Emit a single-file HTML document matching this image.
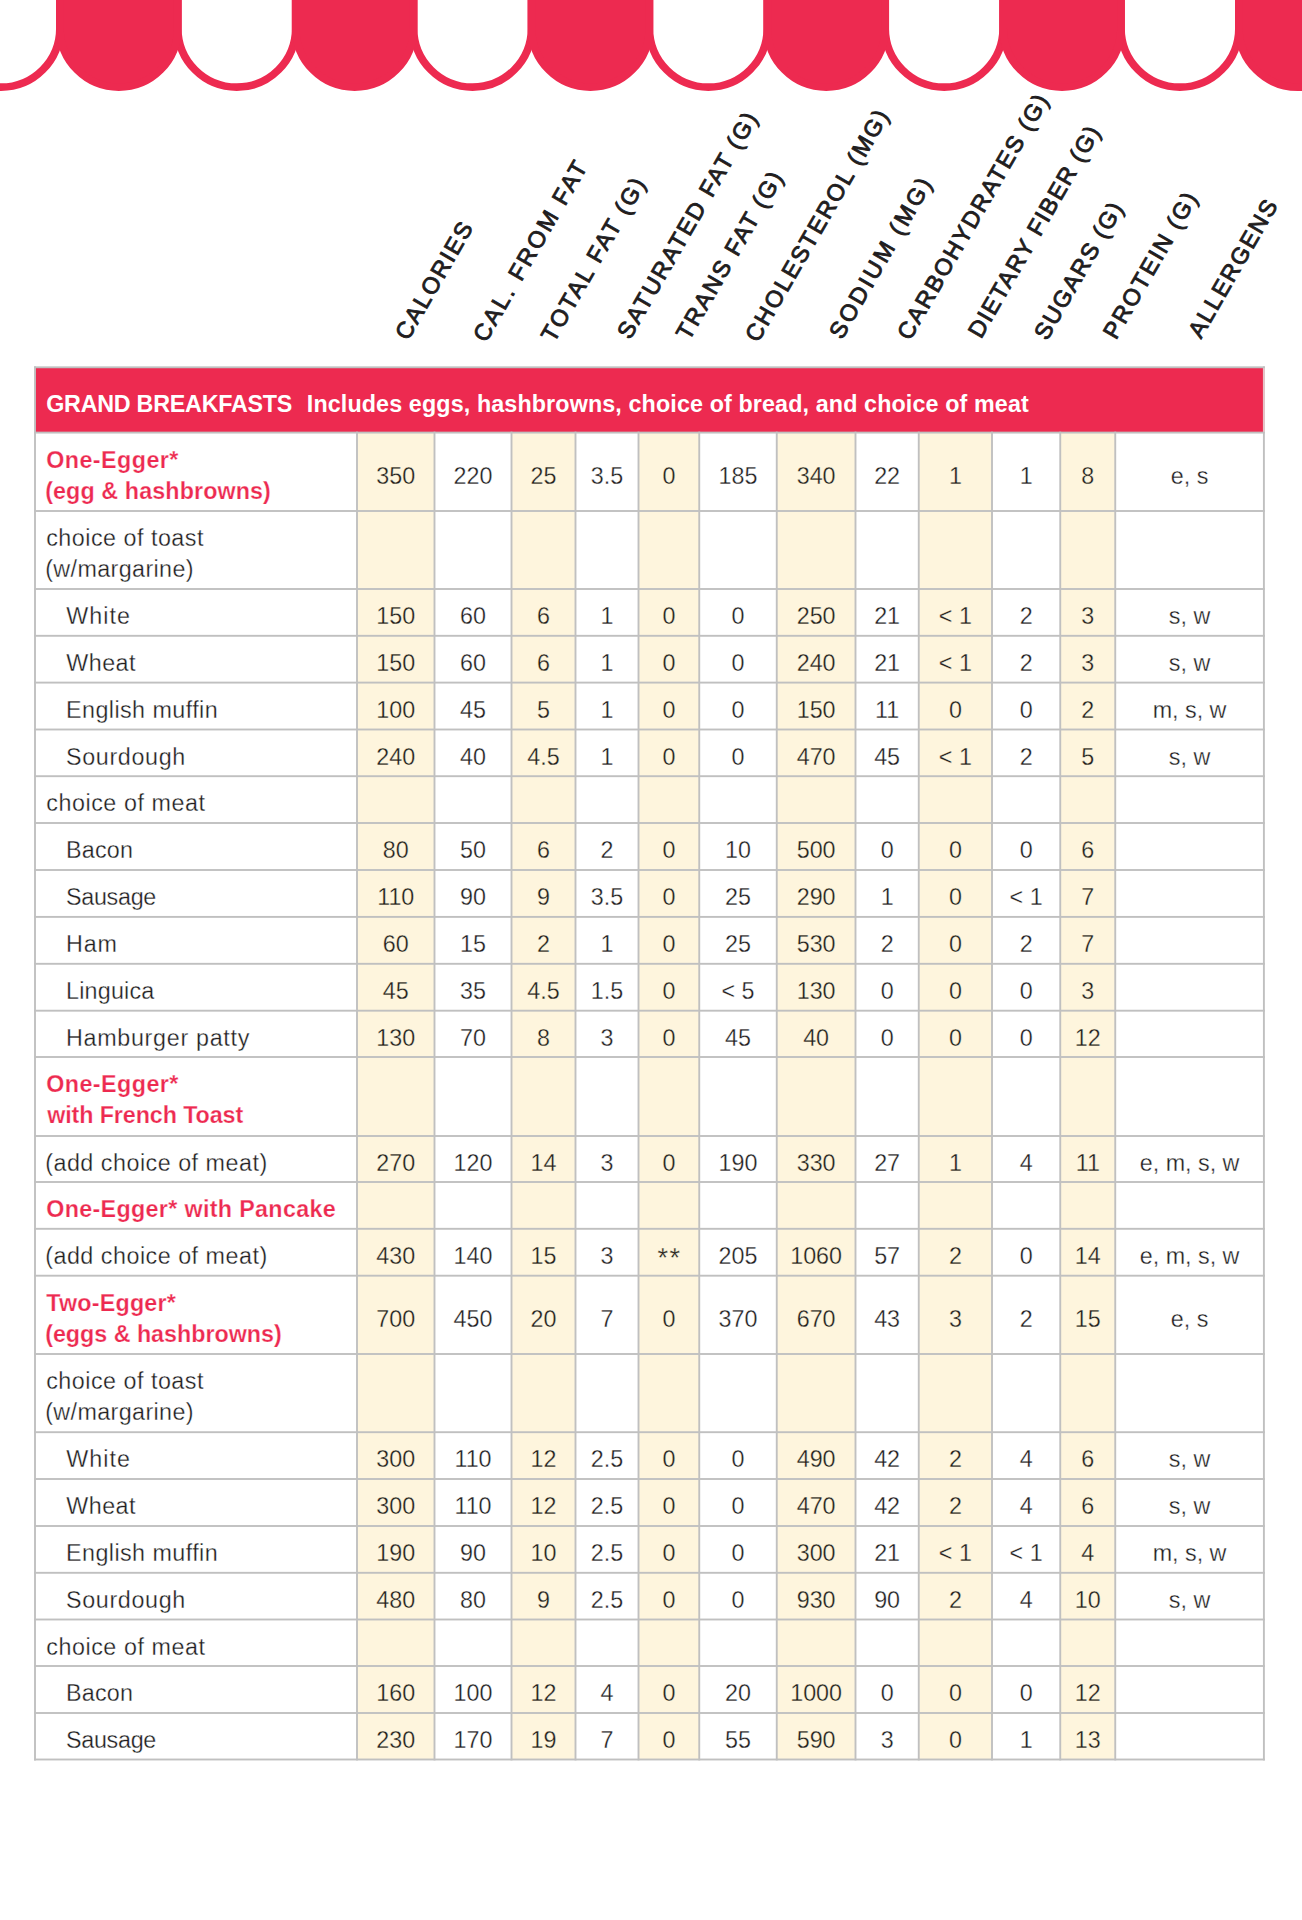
<!DOCTYPE html>
<html lang="en"><head><meta charset="utf-8"><title>Nutrition Facts - Grand Breakfasts</title>
<style>
html,body{margin:0;padding:0;background:#fff}
body{width:1302px;height:1920px;position:relative;overflow:hidden;font-family:"Liberation Sans",sans-serif;color:#211D1E}
.a{position:absolute;white-space:nowrap}
.t{position:absolute;white-space:nowrap;font-size:23.3px;line-height:30px;height:30px}
.n{text-align:center}
.w{-webkit-text-stroke:0.3px #fff}
.k{-webkit-text-stroke:0.3px #FEF5DD}
.r{color:#ED2A50;font-weight:bold;-webkit-text-stroke:0.25px #fff}
.h{position:absolute;white-space:nowrap;font-size:23.3px;line-height:30px;height:30px;transform-origin:0 100%;transform:rotate(-60deg);color:#211D1E;-webkit-text-stroke:0.9px #211D1E}

</style></head><body>
<svg class="a" style="left:0;top:0" width="1302" height="100" viewBox="0 0 1302 100">
<path d="M-58.000 -10 V28.20 A58.90 58.90 0 0 0 59.900 28.20 V-10 Z" fill="#fff" stroke="#ED2A50" stroke-width="7.7"/>
<path d="M177.800 -10 V28.20 A58.90 58.90 0 0 0 295.700 28.20 V-10 Z" fill="#fff" stroke="#ED2A50" stroke-width="7.7"/>
<path d="M413.600 -10 V28.20 A58.90 58.90 0 0 0 531.500 28.20 V-10 Z" fill="#fff" stroke="#ED2A50" stroke-width="7.7"/>
<path d="M649.400 -10 V28.20 A58.90 58.90 0 0 0 767.300 28.20 V-10 Z" fill="#fff" stroke="#ED2A50" stroke-width="7.7"/>
<path d="M885.200 -10 V28.20 A58.90 58.90 0 0 0 1003.100 28.20 V-10 Z" fill="#fff" stroke="#ED2A50" stroke-width="7.7"/>
<path d="M1121.000 -10 V28.20 A58.90 58.90 0 0 0 1238.900 28.20 V-10 Z" fill="#fff" stroke="#ED2A50" stroke-width="7.7"/>
<path d="M59.900 -10 V28.20 A58.90 58.90 0 0 0 177.800 28.20 V-10 Z" fill="#ED2A50" stroke="#ED2A50" stroke-width="7.7"/>
<path d="M295.700 -10 V28.20 A58.90 58.90 0 0 0 413.600 28.20 V-10 Z" fill="#ED2A50" stroke="#ED2A50" stroke-width="7.7"/>
<path d="M531.500 -10 V28.20 A58.90 58.90 0 0 0 649.400 28.20 V-10 Z" fill="#ED2A50" stroke="#ED2A50" stroke-width="7.7"/>
<path d="M767.300 -10 V28.20 A58.90 58.90 0 0 0 885.200 28.20 V-10 Z" fill="#ED2A50" stroke="#ED2A50" stroke-width="7.7"/>
<path d="M1003.100 -10 V28.20 A58.90 58.90 0 0 0 1121.000 28.20 V-10 Z" fill="#ED2A50" stroke="#ED2A50" stroke-width="7.7"/>
<path d="M1238.900 -10 V28.20 A58.90 58.90 0 0 0 1356.800 28.20 V-10 Z" fill="#ED2A50" stroke="#ED2A50" stroke-width="7.7"/>
</svg>
<div class="h" style="left:414.00px;top:315.45px;letter-spacing:1.92px">CALORIES</div>
<div class="h" style="left:492.30px;top:317.35px;letter-spacing:2.47px">CAL. FROM FAT</div>
<div class="h" style="left:560.00px;top:317.05px;letter-spacing:2.11px">TOTAL FAT (G)</div>
<div class="h" style="left:635.85px;top:314.30px;letter-spacing:1.98px">SATURATED FAT (G)</div>
<div class="h" style="left:694.80px;top:315.25px;letter-spacing:1.94px">TRANS FAT (G)</div>
<div class="h" style="left:763.55px;top:316.50px;letter-spacing:2.05px">CHOLESTEROL (MG)</div>
<div class="h" style="left:848.00px;top:314.35px;letter-spacing:2.84px">SODIUM (MG)</div>
<div class="h" style="left:915.85px;top:315.30px;letter-spacing:1.90px">CARBOHYDRATES (G)</div>
<div class="h" style="left:986.75px;top:313.25px;letter-spacing:1.63px">DIETARY FIBER (G)</div>
<div class="h" style="left:1053.20px;top:315.20px;letter-spacing:1.71px">SUGARS (G)</div>
<div class="h" style="left:1121.70px;top:313.90px;letter-spacing:2.05px">PROTEIN (G)</div>
<div class="h" style="left:1206.80px;top:312.50px;letter-spacing:1.84px">ALLERGENS</div>
<svg class="a" style="left:0;top:340px" width="1302" height="1440" viewBox="0 340 1302 1440">
<rect x="357" y="432.6" width="77.5" height="1326.9" fill="#FEF5DD"/>
<rect x="511.5" y="432.6" width="64" height="1326.9" fill="#FEF5DD"/>
<rect x="638.5" y="432.6" width="60.75" height="1326.9" fill="#FEF5DD"/>
<rect x="776.75" y="432.6" width="78.75" height="1326.9" fill="#FEF5DD"/>
<rect x="918.75" y="432.6" width="73.25" height="1326.9" fill="#FEF5DD"/>
<rect x="1060.25" y="432.6" width="55" height="1326.9" fill="#FEF5DD"/>
<rect x="35" y="367.3" width="1228.9" height="65.3" fill="#ED2A50"/>
<g fill="#C0C0C0">
<rect x="34.05" y="366.35" width="1230.8" height="1.9"/>
<rect x="34.05" y="431.65" width="1230.8" height="1.9"/>
<rect x="34.05" y="510.05" width="1230.8" height="1.9"/>
<rect x="34.05" y="588.05" width="1230.8" height="1.9"/>
<rect x="34.05" y="634.85" width="1230.8" height="1.9"/>
<rect x="34.05" y="681.65" width="1230.8" height="1.9"/>
<rect x="34.05" y="728.55" width="1230.8" height="1.9"/>
<rect x="34.05" y="775.25" width="1230.8" height="1.9"/>
<rect x="34.05" y="822.05" width="1230.8" height="1.9"/>
<rect x="34.05" y="869.05" width="1230.8" height="1.9"/>
<rect x="34.05" y="915.95" width="1230.8" height="1.9"/>
<rect x="34.05" y="962.85" width="1230.8" height="1.9"/>
<rect x="34.05" y="1009.75" width="1230.8" height="1.9"/>
<rect x="34.05" y="1056.05" width="1230.8" height="1.9"/>
<rect x="34.05" y="1135.05" width="1230.8" height="1.9"/>
<rect x="34.05" y="1181.05" width="1230.8" height="1.9"/>
<rect x="34.05" y="1227.85" width="1230.8" height="1.9"/>
<rect x="34.05" y="1274.75" width="1230.8" height="1.9"/>
<rect x="34.05" y="1353.05" width="1230.8" height="1.9"/>
<rect x="34.05" y="1431.25" width="1230.8" height="1.9"/>
<rect x="34.05" y="1478.05" width="1230.8" height="1.9"/>
<rect x="34.05" y="1525.05" width="1230.8" height="1.9"/>
<rect x="34.05" y="1571.85" width="1230.8" height="1.9"/>
<rect x="34.05" y="1618.55" width="1230.8" height="1.9"/>
<rect x="34.05" y="1665.05" width="1230.8" height="1.9"/>
<rect x="34.05" y="1712.05" width="1230.8" height="1.9"/>
<rect x="34.05" y="1758.55" width="1230.8" height="1.9"/>
<rect x="34.05" y="366.35" width="1.9" height="1394.1"/>
<rect x="356.05" y="431.65" width="1.9" height="1328.8"/>
<rect x="433.55" y="431.65" width="1.9" height="1328.8"/>
<rect x="510.55" y="431.65" width="1.9" height="1328.8"/>
<rect x="574.55" y="431.65" width="1.9" height="1328.8"/>
<rect x="637.55" y="431.65" width="1.9" height="1328.8"/>
<rect x="698.3" y="431.65" width="1.9" height="1328.8"/>
<rect x="775.8" y="431.65" width="1.9" height="1328.8"/>
<rect x="854.55" y="431.65" width="1.9" height="1328.8"/>
<rect x="917.8" y="431.65" width="1.9" height="1328.8"/>
<rect x="991.05" y="431.65" width="1.9" height="1328.8"/>
<rect x="1059.3" y="431.65" width="1.9" height="1328.8"/>
<rect x="1114.3" y="431.65" width="1.9" height="1328.8"/>
<rect x="1262.95" y="366.35" width="1.9" height="1394.1"/>
</g>
<rect x="1262.95" y="368.25" width="1.9" height="63.4" fill="#E6C3C7"/>
</svg>
<div class="t" style="left:46.20px;top:389.00px;font-size:23.3px;font-weight:bold;color:#fff;letter-spacing:-0.244px">GRAND BREAKFASTS</div>
<div class="t" style="left:306.80px;top:389.00px;font-size:23.3px;font-weight:bold;color:#fff;letter-spacing:0.121px">Includes eggs, hashbrowns, choice of bread, and choice of meat</div>
<div class="t r" style="left:46.20px;top:445.00px;letter-spacing:0.446px">One-Egger*</div>
<div class="t r" style="left:45.20px;top:476.00px;letter-spacing:0.103px">(egg &amp; hashbrowns)</div>
<div class="t n k" style="left:357.00px;top:461.00px;width:77.5px;">350</div>
<div class="t n w" style="left:434.50px;top:461.00px;width:77px;">220</div>
<div class="t n k" style="left:511.50px;top:461.00px;width:64px;">25</div>
<div class="t n w" style="left:575.50px;top:461.00px;width:63px;">3.5</div>
<div class="t n k" style="left:638.50px;top:461.00px;width:60.75px;">0</div>
<div class="t n w" style="left:699.25px;top:461.00px;width:77.5px;">185</div>
<div class="t n k" style="left:776.75px;top:461.00px;width:78.75px;">340</div>
<div class="t n w" style="left:855.50px;top:461.00px;width:63.25px;">22</div>
<div class="t n k" style="left:918.75px;top:461.00px;width:73.25px;">1</div>
<div class="t n w" style="left:992.00px;top:461.00px;width:68.25px;">1</div>
<div class="t n k" style="left:1060.25px;top:461.00px;width:55px;">8</div>
<div class="t n w" style="left:1115.25px;top:461.00px;width:148.65px;">e, s</div>
<div class="t w" style="left:46.20px;top:523.00px;letter-spacing:0.503px">choice of toast</div>
<div class="t w" style="left:45.20px;top:554.00px;letter-spacing:0.389px">(w/margarine)</div>
<div class="t w" style="left:66.20px;top:601.00px;letter-spacing:1.027px">White</div>
<div class="t n k" style="left:357.00px;top:601.00px;width:77.5px;">150</div>
<div class="t n w" style="left:434.50px;top:601.00px;width:77px;">60</div>
<div class="t n k" style="left:511.50px;top:601.00px;width:64px;">6</div>
<div class="t n w" style="left:575.50px;top:601.00px;width:63px;">1</div>
<div class="t n k" style="left:638.50px;top:601.00px;width:60.75px;">0</div>
<div class="t n w" style="left:699.25px;top:601.00px;width:77.5px;">0</div>
<div class="t n k" style="left:776.75px;top:601.00px;width:78.75px;">250</div>
<div class="t n w" style="left:855.50px;top:601.00px;width:63.25px;">21</div>
<div class="t n k" style="left:918.75px;top:601.00px;width:73.25px;">&lt; 1</div>
<div class="t n w" style="left:992.00px;top:601.00px;width:68.25px;">2</div>
<div class="t n k" style="left:1060.25px;top:601.00px;width:55px;">3</div>
<div class="t n w" style="left:1115.25px;top:601.00px;width:148.65px;">s, w</div>
<div class="t w" style="left:66.20px;top:648.00px;letter-spacing:0.510px">Wheat</div>
<div class="t n k" style="left:357.00px;top:648.00px;width:77.5px;">150</div>
<div class="t n w" style="left:434.50px;top:648.00px;width:77px;">60</div>
<div class="t n k" style="left:511.50px;top:648.00px;width:64px;">6</div>
<div class="t n w" style="left:575.50px;top:648.00px;width:63px;">1</div>
<div class="t n k" style="left:638.50px;top:648.00px;width:60.75px;">0</div>
<div class="t n w" style="left:699.25px;top:648.00px;width:77.5px;">0</div>
<div class="t n k" style="left:776.75px;top:648.00px;width:78.75px;">240</div>
<div class="t n w" style="left:855.50px;top:648.00px;width:63.25px;">21</div>
<div class="t n k" style="left:918.75px;top:648.00px;width:73.25px;">&lt; 1</div>
<div class="t n w" style="left:992.00px;top:648.00px;width:68.25px;">2</div>
<div class="t n k" style="left:1060.25px;top:648.00px;width:55px;">3</div>
<div class="t n w" style="left:1115.25px;top:648.00px;width:148.65px;">s, w</div>
<div class="t w" style="left:66.00px;top:695.00px;letter-spacing:0.443px">English muffin</div>
<div class="t n k" style="left:357.00px;top:695.00px;width:77.5px;">100</div>
<div class="t n w" style="left:434.50px;top:695.00px;width:77px;">45</div>
<div class="t n k" style="left:511.50px;top:695.00px;width:64px;">5</div>
<div class="t n w" style="left:575.50px;top:695.00px;width:63px;">1</div>
<div class="t n k" style="left:638.50px;top:695.00px;width:60.75px;">0</div>
<div class="t n w" style="left:699.25px;top:695.00px;width:77.5px;">0</div>
<div class="t n k" style="left:776.75px;top:695.00px;width:78.75px;">150</div>
<div class="t n w" style="left:855.50px;top:695.00px;width:63.25px;">11</div>
<div class="t n k" style="left:918.75px;top:695.00px;width:73.25px;">0</div>
<div class="t n w" style="left:992.00px;top:695.00px;width:68.25px;">0</div>
<div class="t n k" style="left:1060.25px;top:695.00px;width:55px;">2</div>
<div class="t n w" style="left:1115.25px;top:695.00px;width:148.65px;">m, s, w</div>
<div class="t w" style="left:66.00px;top:742.00px;letter-spacing:0.658px">Sourdough</div>
<div class="t n k" style="left:357.00px;top:742.00px;width:77.5px;">240</div>
<div class="t n w" style="left:434.50px;top:742.00px;width:77px;">40</div>
<div class="t n k" style="left:511.50px;top:742.00px;width:64px;">4.5</div>
<div class="t n w" style="left:575.50px;top:742.00px;width:63px;">1</div>
<div class="t n k" style="left:638.50px;top:742.00px;width:60.75px;">0</div>
<div class="t n w" style="left:699.25px;top:742.00px;width:77.5px;">0</div>
<div class="t n k" style="left:776.75px;top:742.00px;width:78.75px;">470</div>
<div class="t n w" style="left:855.50px;top:742.00px;width:63.25px;">45</div>
<div class="t n k" style="left:918.75px;top:742.00px;width:73.25px;">&lt; 1</div>
<div class="t n w" style="left:992.00px;top:742.00px;width:68.25px;">2</div>
<div class="t n k" style="left:1060.25px;top:742.00px;width:55px;">5</div>
<div class="t n w" style="left:1115.25px;top:742.00px;width:148.65px;">s, w</div>
<div class="t w" style="left:46.20px;top:788.00px;letter-spacing:0.559px">choice of meat</div>
<div class="t w" style="left:66.00px;top:835.00px;letter-spacing:0.200px">Bacon</div>
<div class="t n k" style="left:357.00px;top:835.00px;width:77.5px;">80</div>
<div class="t n w" style="left:434.50px;top:835.00px;width:77px;">50</div>
<div class="t n k" style="left:511.50px;top:835.00px;width:64px;">6</div>
<div class="t n w" style="left:575.50px;top:835.00px;width:63px;">2</div>
<div class="t n k" style="left:638.50px;top:835.00px;width:60.75px;">0</div>
<div class="t n w" style="left:699.25px;top:835.00px;width:77.5px;">10</div>
<div class="t n k" style="left:776.75px;top:835.00px;width:78.75px;">500</div>
<div class="t n w" style="left:855.50px;top:835.00px;width:63.25px;">0</div>
<div class="t n k" style="left:918.75px;top:835.00px;width:73.25px;">0</div>
<div class="t n w" style="left:992.00px;top:835.00px;width:68.25px;">0</div>
<div class="t n k" style="left:1060.25px;top:835.00px;width:55px;">6</div>
<div class="t w" style="left:66.00px;top:882.00px;letter-spacing:-0.286px">Sausage</div>
<div class="t n k" style="left:357.00px;top:882.00px;width:77.5px;">110</div>
<div class="t n w" style="left:434.50px;top:882.00px;width:77px;">90</div>
<div class="t n k" style="left:511.50px;top:882.00px;width:64px;">9</div>
<div class="t n w" style="left:575.50px;top:882.00px;width:63px;">3.5</div>
<div class="t n k" style="left:638.50px;top:882.00px;width:60.75px;">0</div>
<div class="t n w" style="left:699.25px;top:882.00px;width:77.5px;">25</div>
<div class="t n k" style="left:776.75px;top:882.00px;width:78.75px;">290</div>
<div class="t n w" style="left:855.50px;top:882.00px;width:63.25px;">1</div>
<div class="t n k" style="left:918.75px;top:882.00px;width:73.25px;">0</div>
<div class="t n w" style="left:992.00px;top:882.00px;width:68.25px;">&lt; 1</div>
<div class="t n k" style="left:1060.25px;top:882.00px;width:55px;">7</div>
<div class="t w" style="left:66.00px;top:929.00px;letter-spacing:0.810px">Ham</div>
<div class="t n k" style="left:357.00px;top:929.00px;width:77.5px;">60</div>
<div class="t n w" style="left:434.50px;top:929.00px;width:77px;">15</div>
<div class="t n k" style="left:511.50px;top:929.00px;width:64px;">2</div>
<div class="t n w" style="left:575.50px;top:929.00px;width:63px;">1</div>
<div class="t n k" style="left:638.50px;top:929.00px;width:60.75px;">0</div>
<div class="t n w" style="left:699.25px;top:929.00px;width:77.5px;">25</div>
<div class="t n k" style="left:776.75px;top:929.00px;width:78.75px;">530</div>
<div class="t n w" style="left:855.50px;top:929.00px;width:63.25px;">2</div>
<div class="t n k" style="left:918.75px;top:929.00px;width:73.25px;">0</div>
<div class="t n w" style="left:992.00px;top:929.00px;width:68.25px;">2</div>
<div class="t n k" style="left:1060.25px;top:929.00px;width:55px;">7</div>
<div class="t w" style="left:66.00px;top:976.00px;letter-spacing:0.210px">Linguica</div>
<div class="t n k" style="left:357.00px;top:976.00px;width:77.5px;">45</div>
<div class="t n w" style="left:434.50px;top:976.00px;width:77px;">35</div>
<div class="t n k" style="left:511.50px;top:976.00px;width:64px;">4.5</div>
<div class="t n w" style="left:575.50px;top:976.00px;width:63px;">1.5</div>
<div class="t n k" style="left:638.50px;top:976.00px;width:60.75px;">0</div>
<div class="t n w" style="left:699.25px;top:976.00px;width:77.5px;">&lt; 5</div>
<div class="t n k" style="left:776.75px;top:976.00px;width:78.75px;">130</div>
<div class="t n w" style="left:855.50px;top:976.00px;width:63.25px;">0</div>
<div class="t n k" style="left:918.75px;top:976.00px;width:73.25px;">0</div>
<div class="t n w" style="left:992.00px;top:976.00px;width:68.25px;">0</div>
<div class="t n k" style="left:1060.25px;top:976.00px;width:55px;">3</div>
<div class="t w" style="left:66.00px;top:1023.00px;letter-spacing:0.703px">Hamburger patty</div>
<div class="t n k" style="left:357.00px;top:1023.00px;width:77.5px;">130</div>
<div class="t n w" style="left:434.50px;top:1023.00px;width:77px;">70</div>
<div class="t n k" style="left:511.50px;top:1023.00px;width:64px;">8</div>
<div class="t n w" style="left:575.50px;top:1023.00px;width:63px;">3</div>
<div class="t n k" style="left:638.50px;top:1023.00px;width:60.75px;">0</div>
<div class="t n w" style="left:699.25px;top:1023.00px;width:77.5px;">45</div>
<div class="t n k" style="left:776.75px;top:1023.00px;width:78.75px;">40</div>
<div class="t n w" style="left:855.50px;top:1023.00px;width:63.25px;">0</div>
<div class="t n k" style="left:918.75px;top:1023.00px;width:73.25px;">0</div>
<div class="t n w" style="left:992.00px;top:1023.00px;width:68.25px;">0</div>
<div class="t n k" style="left:1060.25px;top:1023.00px;width:55px;">12</div>
<div class="t r" style="left:46.20px;top:1069.00px;letter-spacing:0.446px">One-Egger*</div>
<div class="t r" style="left:47.20px;top:1100.00px;letter-spacing:-0.103px">with French Toast</div>
<div class="t w" style="left:45.20px;top:1148.00px;letter-spacing:0.505px">(add choice of meat)</div>
<div class="t n k" style="left:357.00px;top:1148.00px;width:77.5px;">270</div>
<div class="t n w" style="left:434.50px;top:1148.00px;width:77px;">120</div>
<div class="t n k" style="left:511.50px;top:1148.00px;width:64px;">14</div>
<div class="t n w" style="left:575.50px;top:1148.00px;width:63px;">3</div>
<div class="t n k" style="left:638.50px;top:1148.00px;width:60.75px;">0</div>
<div class="t n w" style="left:699.25px;top:1148.00px;width:77.5px;">190</div>
<div class="t n k" style="left:776.75px;top:1148.00px;width:78.75px;">330</div>
<div class="t n w" style="left:855.50px;top:1148.00px;width:63.25px;">27</div>
<div class="t n k" style="left:918.75px;top:1148.00px;width:73.25px;">1</div>
<div class="t n w" style="left:992.00px;top:1148.00px;width:68.25px;">4</div>
<div class="t n k" style="left:1060.25px;top:1148.00px;width:55px;">11</div>
<div class="t n w" style="left:1115.25px;top:1148.00px;width:148.65px;">e, m, s, w</div>
<div class="t r" style="left:46.20px;top:1194.00px;letter-spacing:0.333px">One-Egger* with Pancake</div>
<div class="t w" style="left:45.20px;top:1241.00px;letter-spacing:0.505px">(add choice of meat)</div>
<div class="t n k" style="left:357.00px;top:1241.00px;width:77.5px;">430</div>
<div class="t n w" style="left:434.50px;top:1241.00px;width:77px;">140</div>
<div class="t n k" style="left:511.50px;top:1241.00px;width:64px;">15</div>
<div class="t n w" style="left:575.50px;top:1241.00px;width:63px;">3</div>
<div class="t n k" style="left:638.50px;top:1241.00px;width:60.75px;"><span style="font-size:27px;position:relative;top:2px;letter-spacing:1.5px;margin-left:1.5px">**</span></div>
<div class="t n w" style="left:699.25px;top:1241.00px;width:77.5px;">205</div>
<div class="t n k" style="left:776.75px;top:1241.00px;width:78.75px;">1060</div>
<div class="t n w" style="left:855.50px;top:1241.00px;width:63.25px;">57</div>
<div class="t n k" style="left:918.75px;top:1241.00px;width:73.25px;">2</div>
<div class="t n w" style="left:992.00px;top:1241.00px;width:68.25px;">0</div>
<div class="t n k" style="left:1060.25px;top:1241.00px;width:55px;">14</div>
<div class="t n w" style="left:1115.25px;top:1241.00px;width:148.65px;">e, m, s, w</div>
<div class="t r" style="left:46.20px;top:1288.00px;letter-spacing:0.218px">Two-Egger*</div>
<div class="t r" style="left:45.20px;top:1319.00px;letter-spacing:-0.023px">(eggs &amp; hashbrowns)</div>
<div class="t n k" style="left:357.00px;top:1304.00px;width:77.5px;">700</div>
<div class="t n w" style="left:434.50px;top:1304.00px;width:77px;">450</div>
<div class="t n k" style="left:511.50px;top:1304.00px;width:64px;">20</div>
<div class="t n w" style="left:575.50px;top:1304.00px;width:63px;">7</div>
<div class="t n k" style="left:638.50px;top:1304.00px;width:60.75px;">0</div>
<div class="t n w" style="left:699.25px;top:1304.00px;width:77.5px;">370</div>
<div class="t n k" style="left:776.75px;top:1304.00px;width:78.75px;">670</div>
<div class="t n w" style="left:855.50px;top:1304.00px;width:63.25px;">43</div>
<div class="t n k" style="left:918.75px;top:1304.00px;width:73.25px;">3</div>
<div class="t n w" style="left:992.00px;top:1304.00px;width:68.25px;">2</div>
<div class="t n k" style="left:1060.25px;top:1304.00px;width:55px;">15</div>
<div class="t n w" style="left:1115.25px;top:1304.00px;width:148.65px;">e, s</div>
<div class="t w" style="left:46.20px;top:1366.00px;letter-spacing:0.503px">choice of toast</div>
<div class="t w" style="left:45.20px;top:1397.00px;letter-spacing:0.389px">(w/margarine)</div>
<div class="t w" style="left:66.20px;top:1444.00px;letter-spacing:1.027px">White</div>
<div class="t n k" style="left:357.00px;top:1444.00px;width:77.5px;">300</div>
<div class="t n w" style="left:434.50px;top:1444.00px;width:77px;">110</div>
<div class="t n k" style="left:511.50px;top:1444.00px;width:64px;">12</div>
<div class="t n w" style="left:575.50px;top:1444.00px;width:63px;">2.5</div>
<div class="t n k" style="left:638.50px;top:1444.00px;width:60.75px;">0</div>
<div class="t n w" style="left:699.25px;top:1444.00px;width:77.5px;">0</div>
<div class="t n k" style="left:776.75px;top:1444.00px;width:78.75px;">490</div>
<div class="t n w" style="left:855.50px;top:1444.00px;width:63.25px;">42</div>
<div class="t n k" style="left:918.75px;top:1444.00px;width:73.25px;">2</div>
<div class="t n w" style="left:992.00px;top:1444.00px;width:68.25px;">4</div>
<div class="t n k" style="left:1060.25px;top:1444.00px;width:55px;">6</div>
<div class="t n w" style="left:1115.25px;top:1444.00px;width:148.65px;">s, w</div>
<div class="t w" style="left:66.20px;top:1491.00px;letter-spacing:0.510px">Wheat</div>
<div class="t n k" style="left:357.00px;top:1491.00px;width:77.5px;">300</div>
<div class="t n w" style="left:434.50px;top:1491.00px;width:77px;">110</div>
<div class="t n k" style="left:511.50px;top:1491.00px;width:64px;">12</div>
<div class="t n w" style="left:575.50px;top:1491.00px;width:63px;">2.5</div>
<div class="t n k" style="left:638.50px;top:1491.00px;width:60.75px;">0</div>
<div class="t n w" style="left:699.25px;top:1491.00px;width:77.5px;">0</div>
<div class="t n k" style="left:776.75px;top:1491.00px;width:78.75px;">470</div>
<div class="t n w" style="left:855.50px;top:1491.00px;width:63.25px;">42</div>
<div class="t n k" style="left:918.75px;top:1491.00px;width:73.25px;">2</div>
<div class="t n w" style="left:992.00px;top:1491.00px;width:68.25px;">4</div>
<div class="t n k" style="left:1060.25px;top:1491.00px;width:55px;">6</div>
<div class="t n w" style="left:1115.25px;top:1491.00px;width:148.65px;">s, w</div>
<div class="t w" style="left:66.00px;top:1538.00px;letter-spacing:0.443px">English muffin</div>
<div class="t n k" style="left:357.00px;top:1538.00px;width:77.5px;">190</div>
<div class="t n w" style="left:434.50px;top:1538.00px;width:77px;">90</div>
<div class="t n k" style="left:511.50px;top:1538.00px;width:64px;">10</div>
<div class="t n w" style="left:575.50px;top:1538.00px;width:63px;">2.5</div>
<div class="t n k" style="left:638.50px;top:1538.00px;width:60.75px;">0</div>
<div class="t n w" style="left:699.25px;top:1538.00px;width:77.5px;">0</div>
<div class="t n k" style="left:776.75px;top:1538.00px;width:78.75px;">300</div>
<div class="t n w" style="left:855.50px;top:1538.00px;width:63.25px;">21</div>
<div class="t n k" style="left:918.75px;top:1538.00px;width:73.25px;">&lt; 1</div>
<div class="t n w" style="left:992.00px;top:1538.00px;width:68.25px;">&lt; 1</div>
<div class="t n k" style="left:1060.25px;top:1538.00px;width:55px;">4</div>
<div class="t n w" style="left:1115.25px;top:1538.00px;width:148.65px;">m, s, w</div>
<div class="t w" style="left:66.00px;top:1585.00px;letter-spacing:0.658px">Sourdough</div>
<div class="t n k" style="left:357.00px;top:1585.00px;width:77.5px;">480</div>
<div class="t n w" style="left:434.50px;top:1585.00px;width:77px;">80</div>
<div class="t n k" style="left:511.50px;top:1585.00px;width:64px;">9</div>
<div class="t n w" style="left:575.50px;top:1585.00px;width:63px;">2.5</div>
<div class="t n k" style="left:638.50px;top:1585.00px;width:60.75px;">0</div>
<div class="t n w" style="left:699.25px;top:1585.00px;width:77.5px;">0</div>
<div class="t n k" style="left:776.75px;top:1585.00px;width:78.75px;">930</div>
<div class="t n w" style="left:855.50px;top:1585.00px;width:63.25px;">90</div>
<div class="t n k" style="left:918.75px;top:1585.00px;width:73.25px;">2</div>
<div class="t n w" style="left:992.00px;top:1585.00px;width:68.25px;">4</div>
<div class="t n k" style="left:1060.25px;top:1585.00px;width:55px;">10</div>
<div class="t n w" style="left:1115.25px;top:1585.00px;width:148.65px;">s, w</div>
<div class="t w" style="left:46.20px;top:1632.00px;letter-spacing:0.559px">choice of meat</div>
<div class="t w" style="left:66.00px;top:1678.00px;letter-spacing:0.200px">Bacon</div>
<div class="t n k" style="left:357.00px;top:1678.00px;width:77.5px;">160</div>
<div class="t n w" style="left:434.50px;top:1678.00px;width:77px;">100</div>
<div class="t n k" style="left:511.50px;top:1678.00px;width:64px;">12</div>
<div class="t n w" style="left:575.50px;top:1678.00px;width:63px;">4</div>
<div class="t n k" style="left:638.50px;top:1678.00px;width:60.75px;">0</div>
<div class="t n w" style="left:699.25px;top:1678.00px;width:77.5px;">20</div>
<div class="t n k" style="left:776.75px;top:1678.00px;width:78.75px;">1000</div>
<div class="t n w" style="left:855.50px;top:1678.00px;width:63.25px;">0</div>
<div class="t n k" style="left:918.75px;top:1678.00px;width:73.25px;">0</div>
<div class="t n w" style="left:992.00px;top:1678.00px;width:68.25px;">0</div>
<div class="t n k" style="left:1060.25px;top:1678.00px;width:55px;">12</div>
<div class="t w" style="left:66.00px;top:1725.00px;letter-spacing:-0.286px">Sausage</div>
<div class="t n k" style="left:357.00px;top:1725.00px;width:77.5px;">230</div>
<div class="t n w" style="left:434.50px;top:1725.00px;width:77px;">170</div>
<div class="t n k" style="left:511.50px;top:1725.00px;width:64px;">19</div>
<div class="t n w" style="left:575.50px;top:1725.00px;width:63px;">7</div>
<div class="t n k" style="left:638.50px;top:1725.00px;width:60.75px;">0</div>
<div class="t n w" style="left:699.25px;top:1725.00px;width:77.5px;">55</div>
<div class="t n k" style="left:776.75px;top:1725.00px;width:78.75px;">590</div>
<div class="t n w" style="left:855.50px;top:1725.00px;width:63.25px;">3</div>
<div class="t n k" style="left:918.75px;top:1725.00px;width:73.25px;">0</div>
<div class="t n w" style="left:992.00px;top:1725.00px;width:68.25px;">1</div>
<div class="t n k" style="left:1060.25px;top:1725.00px;width:55px;">13</div>
</body></html>
